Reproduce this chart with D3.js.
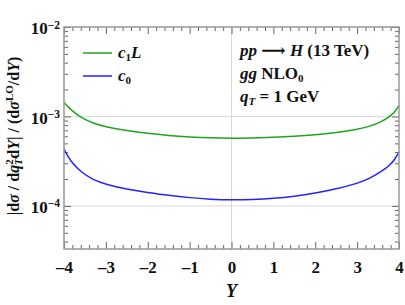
<!DOCTYPE html>
<html>
<head>
<meta charset="utf-8">
<script src="https://cdn.jsdelivr.net/npm/d3@7"></script>
<style>
  body { margin: 0; background: #fff; }
  svg text { font-family: "Liberation Serif", "DejaVu Serif", serif; font-weight: bold; fill: #111; }
</style>
</head>
<body>
<div id="chart"></div>
<script>
// rapidity values and the two coefficients
const rapidity = [-4, -3.9, -3.8, -3.6, -3.3, -3, -2.5, -2, -1.5, -1, -0.5, 0, 0.5, 1, 1.5, 2, 2.5, 3, 3.3, 3.6, 3.8, 3.9, 4];
const c1L = [1.434e-3, 1.277e-3, 1.152e-3, 9.75e-4, 8.35e-4, 7.63e-4, 6.94e-4, 6.46e-4, 6.13e-4, 5.90e-4, 5.75e-4, 5.71e-4,
             5.75e-4, 5.83e-4, 5.98e-4, 6.21e-4, 6.60e-4, 7.16e-4, 7.73e-4, 8.79e-4, 1.013e-3, 1.122e-3, 1.327e-3];
const c0 = [4.33e-4, 3.53e-4, 3.02e-4, 2.40e-4, 1.95e-4, 1.74e-4, 1.535e-4, 1.414e-4, 1.309e-4, 1.234e-4, 1.187e-4, 1.166e-4,
            1.18e-4, 1.212e-4, 1.28e-4, 1.39e-4, 1.55e-4, 1.78e-4, 2.02e-4, 2.45e-4, 2.91e-4, 3.31e-4, 4.01e-4];
const xTicks = [-4, -3, -2, -1, 0, 1, 2, 3, 4];
const yTicks = [1e-4, 1e-3, 1e-2];
const yExp = ["-4", "-3", "-2"];

const margin = {top: 27, right: 6, bottom: 56, left: 64};
const width = 335;
const height = 222;

const x = d3.scaleLinear().domain([-4, 4]).range([0, width]);
const y = d3.scaleLog().domain([3.3e-5, 1e-2]).range([height, 0]);
const line = d3.line().x(d => x(d[0])).y(d => y(d[1])).curve(d3.curveBasis);

const svg = d3.select("#chart").append("svg")
    .attr("width", 405)
    .attr("height", 305);
const chart = svg.append("g")
    .attr("transform", "translate(" + margin.left + "," + margin.top + ")");

// grid lines
chart.selectAll(".hgrid").data([1e-3, 1e-4]).enter()
    .append("line")
    .attr("x1", 0).attr("x2", width)
    .attr("y1", d => y(d)).attr("y2", d => y(d))
    .attr("stroke", "#d9d9d9").attr("stroke-width", 1);
chart.append("line")
    .attr("x1", x(0)).attr("x2", x(0))
    .attr("y1", 0).attr("y2", height)
    .attr("stroke", "#d9d9d9").attr("stroke-width", 1);

// minor ticks
const xMinor = d3.range(-4, 4.001, 0.2).filter(v => Math.abs(v - Math.round(v)) > 1e-6);
let yMinor = [];
[1e-5, 1e-4, 1e-3].forEach(dec => {
  for (let k = 2; k <= 9; k++) {
    const v = dec * k;
    if (v >= 3.3e-5 && v <= 1e-2) yMinor.push(v);
  }
});

function styleAxis(g) {
  g.select(".domain").remove();
  g.selectAll("line").attr("stroke", "#666").attr("stroke-width", 1);
}

chart.append("g").attr("transform", "translate(0," + height + ")")
    .call(d3.axisBottom(x).tickValues(xMinor).tickSize(-4).tickFormat(""))
    .call(styleAxis);
chart.append("g")
    .call(d3.axisTop(x).tickValues(xMinor).tickSize(-4).tickFormat(""))
    .call(styleAxis);
chart.append("g")
    .call(d3.axisLeft(y).tickValues(yMinor).tickSize(-4).tickFormat(""))
    .call(styleAxis);
chart.append("g").attr("transform", "translate(" + width + ",0)")
    .call(d3.axisRight(y).tickValues(yMinor).tickSize(-4).tickFormat(""))
    .call(styleAxis);

// major ticks with labels
chart.append("g").attr("transform", "translate(0," + height + ")")
    .call(d3.axisBottom(x).tickValues(xTicks).tickSize(-7).tickPadding(12)
      .tickFormat(d => d < 0 ? "\u2013" + Math.abs(d) : d))
    .call(styleAxis)
    .selectAll("text").attr("font-size", 17).attr("font-family", "Liberation Serif").attr("font-weight", "bold").attr("fill", "#111");
chart.append("g")
    .call(d3.axisTop(x).tickValues(xTicks).tickSize(-7).tickFormat(""))
    .call(styleAxis);
const yAx = chart.append("g")
    .call(d3.axisLeft(y).tickValues(yTicks).tickSize(-7).tickPadding(4).tickFormat(""))
    .call(styleAxis);
yAx.selectAll(".tick text").each(function(d, i) {
  const t = d3.select(this)
      .attr("font-size", 17).attr("font-family", "Liberation Serif").attr("font-weight", "bold").attr("fill", "#111")
      .attr("dy", "0.4em");
  t.append("tspan").text("10");
  t.append("tspan").attr("dy", "-0.5em").attr("font-size", 11.5).text(yExp[i].replace("-", "\u2212"));
});
chart.append("g").attr("transform", "translate(" + width + ",0)")
    .call(d3.axisRight(y).tickValues(yTicks).tickSize(-7).tickFormat(""))
    .call(styleAxis);

// curves
chart.append("path")
    .datum(rapidity.map((r, i) => [r, c1L[i]]))
    .attr("fill", "none").attr("stroke", "#1ea51e").attr("stroke-width", 1.5)
    .attr("d", line);
chart.append("path")
    .datum(rapidity.map((r, i) => [r, c0[i]]))
    .attr("fill", "none").attr("stroke", "#2323ff").attr("stroke-width", 1.5)
    .attr("d", line);

// frame
chart.append("rect")
    .attr("width", width).attr("height", height)
    .attr("fill", "none").attr("stroke", "#999").attr("stroke-width", 1.5);

// legend
const legend = [{name: "c", sub: "1", tail: "L", color: "#1ea51e"}, {name: "c", sub: "0", tail: "", color: "#2323ff"}];
legend.forEach((l, i) => {
  const ly = 26 + i * 23;
  chart.append("line")
      .attr("x1", 19).attr("x2", 48).attr("y1", ly).attr("y2", ly)
      .attr("stroke", l.color).attr("stroke-width", 1.5);
  const t = chart.append("text").attr("x", 54).attr("y", ly + 5).attr("font-size", 17);
  t.append("tspan").attr("font-style", "italic").text(l.name);
  t.append("tspan").attr("font-size", 11).attr("dy", 3).text(l.sub);
  if (l.tail) t.append("tspan").attr("dy", -3).attr("font-style", "italic").text(l.tail);
});

// annotation
const ax = 176;
let t1 = chart.append("text").attr("x", ax).attr("y", 29).attr("font-size", 17);
t1.append("tspan").attr("font-style", "italic").text("pp");
t1.append("tspan").text(" \u27f6 ");
t1.append("tspan").attr("font-style", "italic").text("H");
t1.append("tspan").text(" (13 TeV)");
let t2 = chart.append("text").attr("x", ax).attr("y", 52).attr("font-size", 17);
t2.append("tspan").attr("font-style", "italic").text("gg");
t2.append("tspan").text(" NLO");
t2.append("tspan").attr("font-size", 11).attr("dy", 3).text("0");
let t3 = chart.append("text").attr("x", ax).attr("y", 75).attr("font-size", 17);
t3.append("tspan").attr("font-style", "italic").text("q");
t3.append("tspan").attr("font-style", "italic").attr("font-size", 11).attr("dy", 3).text("T");
t3.append("tspan").attr("dy", -3).text(" = 1 GeV");

// axis titles
svg.append("text")
    .attr("x", margin.left + x(0)).attr("y", 297)
    .attr("text-anchor", "middle").attr("font-size", 18).attr("font-style", "italic")
    .text("Y");

const yl = svg.append("text")
    .attr("transform", "translate(19,136) rotate(-90)")
    .attr("text-anchor", "middle").attr("font-size", 16);
yl.append("tspan").text("|d");
yl.append("tspan").attr("font-style", "italic").text("\u03c3");
yl.append("tspan").text(" / d");
yl.append("tspan").attr("font-style", "italic").text("q");
yl.append("tspan").attr("font-size", 11).attr("dy", -6).text("2");
yl.append("tspan").attr("font-size", 11).attr("font-style", "italic").attr("dx", -6).attr("dy", 9).text("T");
yl.append("tspan").attr("dy", -3).text("d");
yl.append("tspan").attr("font-style", "italic").text("Y");
yl.append("tspan").text("| / (d");
yl.append("tspan").attr("font-style", "italic").text("\u03c3");
yl.append("tspan").attr("font-size", 11).attr("dy", -6).text("LO");
yl.append("tspan").attr("dy", 6).text("/d");
yl.append("tspan").attr("font-style", "italic").text("Y");
yl.append("tspan").text(")");
</script>
</body>
</html>
